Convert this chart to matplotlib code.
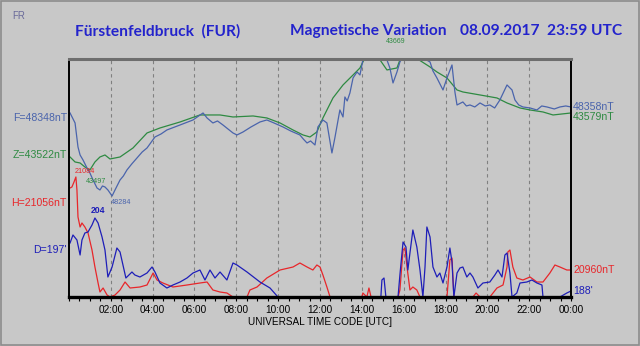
import matplotlib.pyplot as plt
import matplotlib.transforms as mtransforms
from matplotlib.patches import Rectangle
from matplotlib.ticker import MultipleLocator

plt.rcParams['font.family'] = ['Liberation Sans', 'DejaVu Sans']

# traces: hour of day (UTC) and level on the relative plot scale (0 = bottom, 238 = top)
f_hours = [0.05, 0.29, 0.43, 0.53, 0.67, 0.86, 1.0, 1.15, 1.34, 1.48, 1.6, 1.72, 1.86, 2.06,
           2.2, 2.44, 2.6, 2.77, 3.0, 3.25, 3.5, 3.73, 4.11, 4.4, 4.68, 5.31, 5.93, 6.2, 6.41,
           6.6, 6.88, 7.1, 7.36, 7.6, 7.84, 8.03, 8.32, 8.7, 9.13, 9.46, 9.8, 10.23, 10.6,
           11.04, 11.2, 11.38, 11.55, 11.76, 11.9, 12.14, 12.33, 12.57, 12.71, 12.95, 13.1,
           13.19, 13.3, 13.43, 13.58, 13.77, 13.91, 14.05, 14.24, 14.48, 14.72, 14.96, 15.2,
           15.34, 15.49, 15.68, 15.82, 16.06, 16.4, 16.63, 16.92, 17.26, 17.4, 17.59, 17.88,
           18.07, 18.31, 18.45, 18.55, 18.83, 19.0, 19.17, 19.4, 19.65, 19.9, 20.12, 20.35,
           20.6, 20.94, 21.18, 21.32, 21.5, 21.7, 22.04, 22.37, 22.6, 22.85, 23.2, 23.47,
           23.75, 24.0]
f_level = [184, 174, 150, 142, 137, 129, 124, 117, 109, 107, 111, 110, 107, 101,
           107, 117, 121, 127, 133, 139, 145, 149, 160, 163, 167, 172, 177, 181, 184,
           179, 174, 176, 172, 168, 164, 162, 165, 170, 175, 177, 174, 170, 166,
           162, 158, 154, 156, 152, 170, 177, 174, 144, 159, 187, 180,
           200, 196, 204, 219, 225, 222, 237, 242, 245, 237, 239, 237,
           229, 214, 225, 235, 245, 245, 237, 239, 235, 226, 219, 207,
           219, 232, 205, 192, 195, 191, 192, 190, 194, 191, 192, 189,
           197, 212, 207, 197, 192, 190, 189, 187, 191, 190, 188, 190,
           191, 190]

z_hours = [0.05, 0.29, 0.53, 0.76, 1.0, 1.24, 1.48, 1.72, 1.96, 2.44, 3.06, 3.73, 4.35,
           5.31, 6.26, 7.22, 7.84, 8.8, 9.46, 10.09, 10.71, 11.19, 11.52, 11.85, 12.14,
           12.62, 13.1, 13.58, 13.91, 14.05, 14.24, 14.72, 14.87, 15.2, 15.68, 15.82,
           16.06, 16.44, 17.26, 17.59, 18.07, 18.55, 18.83, 19.65, 20.46, 20.94, 21.56,
           22.04, 22.66, 23.14, 24.0]
z_level = [140, 135, 134, 130, 127, 135, 140, 142, 138, 140, 149, 164, 169,
           175, 182, 182, 180, 181, 179, 174, 167, 162, 160, 165, 179,
           199, 212, 222, 229, 235, 242, 242, 237, 227, 229, 237,
           243, 241, 230, 225, 219, 207, 205, 202, 199, 194, 189,
           187, 185, 182, 184]

h_hours = [0.05, 0.14, 0.24, 0.33, 0.38, 0.43, 0.53, 0.62, 0.76, 0.91, 1.1, 1.24, 1.39,
           1.48, 1.63, 1.82, 1.96, 2.2, 2.44, 2.68, 2.92, 3.39, 3.73, 4.02, 4.21, 4.49,
           4.97, 5.64, 6.26, 6.6, 6.88, 7.22, 7.55, 7.84, 8.51, 8.65, 8.99, 9.46, 10.09,
           10.71, 11.04, 11.38, 11.66, 11.85, 12.0, 12.14, 12.33, 12.48, 14.0, 14.05,
           14.24, 14.34, 14.44, 15.73, 15.82, 15.97, 16.06, 16.16, 16.3, 16.44, 16.63,
           16.78, 18.07, 18.21, 18.31, 18.4, 19.31, 19.46, 19.65, 20.12, 20.46, 20.75,
           20.94, 20.98, 21.08, 21.22, 21.41, 21.7, 22.04, 22.37, 22.66, 22.99, 23.23,
           23.47, 23.8, 24.0]
h_level = [109, 110, 115, 120, 107, 80, 70, 74, 70, 64, 47, 30, 14,
           5, 9, 2, 0, 2, 7, 15, 9, 10, 12, 24, 17, 14,
           10, 12, 14, 15, 7, 5, 4, 0, 0, 7, 10, 19, 27,
           30, 34, 30, 27, 32, 30, 22, 10, 0, 0, 4,
           0, 9, 0, 0, 7, 47, 49, 30, 7, 10, 7,
           0, 0, 37, 39, 0, 0, 4, 0, 0, 9, 12,
           30, 45, 47, 30, 19, 17, 20, 15, 15, 24, 32,
           30, 27, 27]

d_hours = [0.05, 0.19, 0.38, 0.53, 0.62, 0.76, 0.91, 1.1, 1.24, 1.39, 1.58, 1.72, 1.86,
           2.06, 2.29, 2.44, 2.58, 2.72, 3.01, 3.15, 3.39, 3.73, 3.97, 4.11, 4.35, 4.68,
           4.97, 5.31, 5.64, 5.93, 6.26, 6.5, 6.74, 6.98, 7.22, 7.55, 7.84, 8.03, 8.51,
           9.13, 9.61, 9.99, 14.91, 14.96, 15.06, 15.15, 15.73, 15.82, 15.97, 16.11, 16.2,
           16.3, 16.44, 16.63, 16.78, 16.92, 17.02, 17.11, 17.26, 17.4, 17.59, 17.73,
           17.88, 18.07, 18.21, 18.31, 18.4, 18.55, 18.69, 18.83, 19.02, 19.17, 19.31,
           19.55, 19.79, 20.12, 20.36, 20.51, 20.7, 20.84, 20.94, 21.08, 21.18, 21.41,
           21.56, 21.89, 22.13, 22.37, 22.61, 22.66, 23.47, 23.8, 24.0]
d_level = [54, 62, 57, 42, 57, 64, 65, 72, 79, 74, 60, 47, 20,
           30, 49, 45, 32, 19, 25, 22, 20, 24, 30, 25, 14, 9,
           12, 15, 19, 24, 27, 17, 27, 19, 25, 17, 34, 32, 25,
           15, 9, 0, 0, 17, 19, 0, 0, 22, 55, 50, 27,
           44, 67, 50, 27, 0, 30, 70, 60, 30, 20, 24,
           14, 30, 49, 35, 0, 24, 29, 30, 20, 24, 20,
           9, 14, 15, 22, 27, 20, 42, 44, 24, 0, 4,
           14, 15, 17, 14, 12, 0, 0, 4, 6]

tick_hours = [2, 4, 6, 8, 10, 12, 14, 16, 18, 20, 22, 24]
tick_labels = ['02:00', '04:00', '06:00', '08:00', '10:00', '12:00',
               '14:00', '16:00', '18:00', '20:00', '22:00', '00:00']

bg = '#c8c8c8'
c_f = '#4a64ac'
c_z = '#2e8a42'
c_h = '#e8262a'
c_d = '#1e1eb8'

fig = plt.figure(figsize=(6.4, 3.46), dpi=100, facecolor=bg)
fig.patches.append(Rectangle((0.001, 0.002), 0.997, 0.995, transform=fig.transFigure,
                             fill=False, edgecolor='#8c8c8c', lw=1.2))
ax = fig.add_axes([0.1078, 0.1416, 0.7844, 0.688], facecolor=bg)

ax.plot(h_hours, h_level, color=c_h, lw=0.9)
ax.plot(d_hours, d_level, color=c_d, lw=0.9)
ax.plot(z_hours, z_level, color=c_z, lw=0.9)
ax.plot(f_hours, f_level, color=c_f, lw=0.9)

ax.set_xlim(0, 24)
ax.set_ylim(0, 238)

for h in tick_hours[:-1]:
    ax.axvline(h, color='#808080', lw=0.8, ls=(0, (3, 3)), zorder=0)

ax.set_xticks(tick_hours)
ax.set_xticklabels(tick_labels, fontsize=7.2)
ax.xaxis.set_minor_locator(MultipleLocator(0.5))
ax.tick_params(axis='x', which='both', direction='out', length=3, width=0.8, color='black', pad=3)
ax.set_yticks([])
ax.set_xlabel('UNIVERSAL TIME CODE [UTC]', fontsize=7.2, labelpad=1)

ax.spines['left'].set_linewidth(1.4)
ax.spines['right'].set_linewidth(1.4)
ax.spines['bottom'].set_linewidth(2.4)
ax.spines['top'].set_linewidth(2.2)
ax.spines['top'].set_color('#6e6e6e')

# channel names on the left, closing values on the right
left = mtransforms.blended_transform_factory(ax.transAxes, ax.transData)
ax.text(-0.004, 179, 'F=48348nT', transform=left, ha='right', va='center', color=c_f, fontsize=7.6)
ax.text(-0.004, 142, 'Z=43522nT', transform=left, ha='right', va='center', color=c_z, fontsize=7.6)
ax.text(-0.004, 94, 'H=21056nT', transform=left, ha='right', va='center', color=c_h, fontsize=7.6)
ax.text(-0.004, 47, "D=197'", transform=left, ha='right', va='center', color=c_d, fontsize=7.6)
ax.text(1.004, f_level[-1], '48358nT', transform=left, ha='left', va='center', color=c_f, fontsize=7.6)
ax.text(1.004, z_level[-1] - 4, '43579nT', transform=left, ha='left', va='center', color=c_z, fontsize=7.6)
ax.text(1.004, h_level[-1], '20960nT', transform=left, ha='left', va='center', color=c_h, fontsize=7.6)
ax.text(1.004, d_level[-1], "188'", transform=left, ha='left', va='center', color=c_d, fontsize=7.6)

# extreme values of the day
ax.text(0.25, 122, '21084', color=c_h, fontsize=5.2, ha='left', va='bottom')
ax.text(0.8, 112, '43497', color=c_z, fontsize=5.2, ha='left', va='bottom')
ax.text(2.0, 91, '48284', color=c_f, fontsize=5.2, ha='left', va='bottom')
ax.text(1.05, 82, '204', color=c_d, fontsize=6.2, ha='left', va='bottom', fontweight='bold')
ax.text(15.6, 252, '43669', color=c_z, fontsize=5, ha='center', va='bottom', clip_on=False)

fig.text(0.019, 0.955, 'FR', color='#6a6a9a', fontsize=7, ha='left', va='center')
title_kw = dict(color='#2323cc', fontsize=11.2, va='center', fontweight='bold',
                family=['Lato', 'DejaVu Sans'])
fig.text(0.117, 0.91, 'Fürstenfeldbruck  (FUR)', ha='left', **title_kw)
fig.text(0.453, 0.91, 'Magnetische Variation', ha='left', **title_kw)
fig.text(0.972, 0.91, '08.09.2017  23:59 UTC', ha='right', **title_kw)

fig.savefig('out.png', dpi=100, facecolor=bg)
